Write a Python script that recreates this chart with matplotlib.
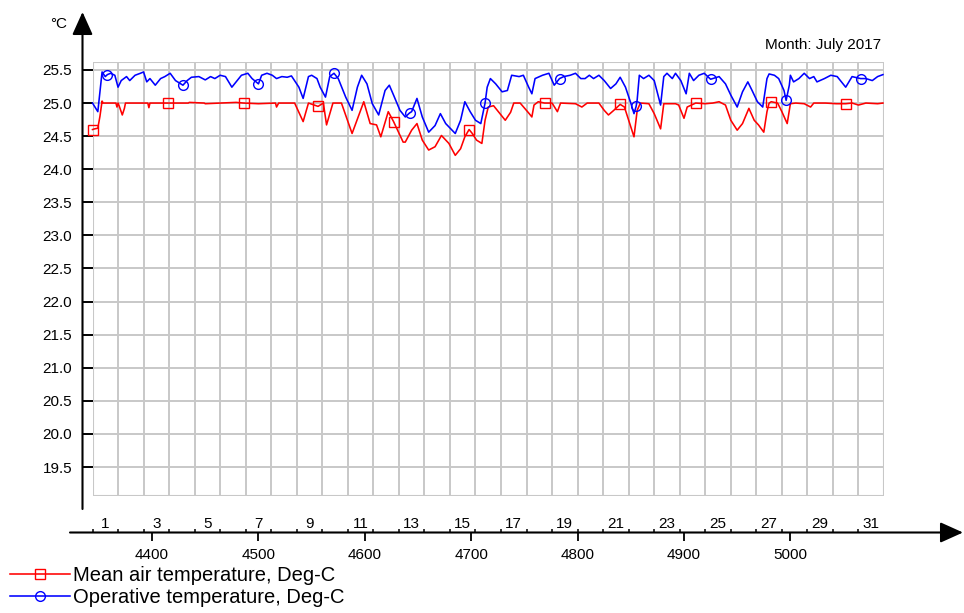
import numpy as np
import matplotlib.pyplot as plt
from matplotlib.patches import Rectangle

plt.rcParams["font.family"] = ["Liberation Sans", "DejaVu Sans"]

start_hour = 4344  # 1 July 00:00, hour of year
n_days = 31

# mean air temperature, hour offset in July / value
air_h = [0, 2, 5, 7, 9, 10, 22, 23, 24, 25, 28, 30, 31, 52, 53, 54, 71, 90, 91, 105,
         106, 120, 135, 142, 156, 172, 173, 175, 190, 198, 203, 212, 217, 220, 226, 234,
         244, 255, 261, 267, 271, 278, 283, 292, 294, 300, 305, 310, 316, 322, 328, 335,
         341, 346, 350, 354, 357, 361, 366, 369, 372, 377, 382, 388, 393, 396, 402, 410,
         413, 415, 419, 425, 432, 437, 440, 454, 460, 465, 476, 481, 485, 490, 496, 500,
         504, 509, 512, 515, 523, 528, 534, 537, 548, 551, 556, 559, 567, 576, 583, 589,
         595, 600, 606, 611, 617, 622, 626, 631, 634, 636, 638, 644, 648, 653, 656, 661,
         669, 675, 678, 689, 699, 708, 714, 720, 727, 738, 743]
air_t = [24.60, 24.61, 24.62, 24.80, 25.03, 25.00, 25.00, 24.94, 25.00, 24.96, 24.82, 24.92,
         25.00, 25.00, 24.93, 25.00, 25.00, 25.00, 25.01, 25.00, 24.99, 25.00, 25.01, 25.00,
         24.99, 25.00, 24.94, 25.00, 25.00, 24.72, 25.00, 24.95, 25.00, 24.67, 25.00, 25.00,
         24.54, 25.02, 24.69, 24.67, 24.49, 24.87, 24.72, 24.41, 24.41, 24.59, 24.69, 24.44,
         24.29, 24.34, 24.51, 24.39, 24.21, 24.31, 24.49, 24.60, 24.54, 24.44, 24.39, 24.74,
         24.94, 24.96, 24.86, 24.74, 24.86, 25.00, 25.00, 24.85, 24.79, 24.97, 25.02, 25.00,
         25.00, 24.87, 25.00, 24.99, 24.94, 25.00, 25.00, 24.89, 24.82, 24.89, 24.98, 24.94,
         24.74, 24.49, 24.89, 25.00, 24.99, 24.84, 24.61, 24.99, 24.99, 24.97, 24.77, 24.94,
         25.00, 24.99, 25.00, 25.02, 24.97, 24.74, 24.59, 24.69, 24.92, 24.74, 24.67, 24.56,
         24.87, 25.00, 25.02, 25.00, 24.87, 24.69, 24.99, 25.00, 24.99, 24.94, 25.00, 25.00,
         24.99, 24.99, 25.00, 24.97, 25.00, 24.99, 25.00]
air_marks = [0, 71, 142, 212, 283, 354, 425, 496, 567, 638, 708]

# operative temperature
op_h = [0, 5, 9, 12, 14, 17, 21, 24, 27, 32, 35, 40, 45, 48, 51, 54, 59, 64, 68, 73, 78,
        85, 89, 93, 100, 106, 111, 115, 120, 125, 131, 136, 140, 146, 150, 156, 159, 164,
        169, 173, 178, 183, 187, 194, 198, 203, 206, 211, 214, 219, 223, 227, 231, 238,
        244, 249, 253, 258, 263, 269, 275, 279, 283, 289, 294, 298, 300, 305, 310, 316,
        322, 327, 332, 341, 346, 350, 355, 360, 365, 369, 371, 374, 379, 385, 390, 394,
        401, 405, 410, 413, 416, 423, 429, 434, 439, 443, 449, 454, 459, 463, 467, 471,
        476, 481, 487, 492, 496, 501, 506, 509, 511, 512, 514, 518, 523, 528, 534, 537,
        540, 545, 548, 553, 558, 561, 565, 570, 575, 581, 589, 595, 600, 606, 611, 616,
        620, 625, 630, 634, 636, 641, 645, 650, 652, 655, 656, 659, 664, 669, 674, 678,
        681, 688, 694, 700, 703, 708, 714, 722, 727, 733, 738, 743]
op_t = [25.00, 24.87, 25.47, 25.40, 25.43, 25.45, 25.42, 25.24, 25.34, 25.40, 25.34, 25.42,
        25.45, 25.47, 25.32, 25.37, 25.27, 25.37, 25.40, 25.45, 25.34, 25.27, 25.34, 25.39,
        25.40, 25.35, 25.40, 25.37, 25.42, 25.40, 25.24, 25.34, 25.42, 25.45, 25.37, 25.29,
        25.42, 25.45, 25.42, 25.37, 25.40, 25.39, 25.41, 25.24, 25.07, 25.40, 25.42, 25.37,
        25.24, 25.09, 25.40, 25.45, 25.37, 25.09, 24.89, 25.24, 25.42, 25.29, 24.99, 24.82,
        25.19, 25.27, 25.12, 24.89, 24.79, 24.85, 24.87, 25.07, 24.79, 24.56, 24.66, 24.84,
        24.69, 24.54, 24.74, 25.02, 24.87, 24.74, 24.69, 25.00, 25.24, 25.37, 25.29, 25.17,
        25.19, 25.42, 25.40, 25.42, 25.24, 25.14, 25.37, 25.42, 25.45, 25.27, 25.37, 25.40,
        25.42, 25.45, 25.37, 25.37, 25.42, 25.37, 25.42, 25.34, 25.22, 25.29, 25.39, 25.24,
        25.00, 24.84, 24.95, 25.05, 25.42, 25.37, 25.42, 25.34, 24.97, 25.40, 25.45, 25.37,
        25.45, 25.34, 25.14, 25.45, 25.34, 25.42, 25.45, 25.36, 25.40, 25.29, 25.12, 24.94,
        25.17, 25.32, 25.19, 25.02, 24.94, 25.37, 25.44, 25.42, 25.37, 25.19, 25.04, 25.27,
        25.42, 25.32, 25.37, 25.45, 25.37, 25.40, 25.32, 25.37, 25.42, 25.40, 25.34, 25.24,
        25.40, 25.37, 25.37, 25.34, 25.40, 25.43]
op_marks = [14, 85, 156, 227, 298, 369, 439, 511, 581, 652, 722]

y_ticks = [19.5, 20.0, 20.5, 21.0, 21.5, 22.0, 22.5, 23.0, 23.5, 24.0, 24.5, 25.0, 25.5]
hour_ticks = [4400, 4500, 4600, 4700, 4800, 4900, 5000]
day_labels = [1, 3, 5, 7, 9, 11, 13, 15, 17, 19, 21, 23, 25, 27, 29, 31]

W, H = 964, 613
left, right, top, bottom = 92.5, 884, 61.7, 496
fig = plt.figure(figsize=(W / 100, H / 100), dpi=100)
ax = fig.add_axes([left / W, 1 - bottom / H, (right - left) / W, (bottom - top) / H])
aw, ah = right - left, bottom - top

ax.plot(np.array(air_h) + start_hour, air_t, color="#ff0000", lw=1.15,
        marker="s", ms=7.5, mfc="none", mew=1.0, clip_on=False,
        markevery=list(np.flatnonzero(np.isin(air_h, air_marks))),
        label="Mean air temperature, Deg-C")
ax.plot(np.array(op_h) + start_hour, op_t, color="#0000ff", lw=1.15,
        marker="o", ms=7, mfc="none", mew=1.0, clip_on=False,
        markevery=list(np.flatnonzero(np.isin(op_h, op_marks))),
        label="Operative temperature, Deg-C")

ax.set_xlim(start_hour, start_hour + 24 * n_days)
ax.set_ylim(19.062, 25.625)

# frame and grid
for s in ax.spines.values():
    s.set_visible(False)
ax.add_patch(Rectangle((0, 0), 1, 1, transform=ax.transAxes, fill=False,
                       ec="#c8c8c8", lw=1.5, zorder=0.5))
ax.set_axisbelow(True)
ax.grid(axis="y", which="major", color="#c8c8c8", lw=1.4)
ax.grid(axis="x", which="minor", color="#c8c8c8", lw=1.4)

# y axis
ax.spines["left"].set_position(("axes", (82.5 - left) / aw))
ax.set_yticks(y_ticks)
ax.yaxis.set_major_formatter("{x:.1f}")
ax.tick_params(axis="y", direction="in", length=7.2, width=1.4, pad=7.5, labelsize=11)

# x axis
ax.spines["bottom"].set_position(("axes", (bottom - 532.5) / ah))
ax.set_xticks(hour_ticks)
ax.set_xticks(start_hour + 24 * np.arange(n_days), minor=True)
ax.xaxis.remove_overlapping_locs = False
ax.tick_params(axis="x", which="major", direction="out", length=6, width=1.3, pad=5, labelsize=11)
ax.tick_params(axis="x", which="minor", direction="in", length=3.2, width=1.1)
for d in day_labels:
    ax.text(start_hour + 24 * (d - 0.5), (bottom - 527.5) / ah, str(d),
            transform=ax.get_xaxis_transform(), ha="center", va="baseline", fontsize=11)

arrow = dict(arrowstyle="-|>,head_length=1.0,head_width=0.45", color="black", lw=1.5,
             shrinkA=0, shrinkB=0, mutation_scale=14)
ax.annotate("", xy=((82.5 - left) / aw, (bottom - 12) / ah),
            xytext=((82.5 - left) / aw, (bottom - 509) / ah),
            xycoords="axes fraction", arrowprops=arrow, annotation_clip=False)
ax.annotate("", xy=((963 - left) / aw, (bottom - 532.5) / ah),
            xytext=((70 - left) / aw, (bottom - 532.5) / ah),
            xycoords="axes fraction", arrowprops=arrow, annotation_clip=False)

ax.text((881.5 - left) / aw, (bottom - 49) / ah, "Month: July 2017",
        transform=ax.transAxes, ha="right", va="baseline", fontsize=11)
fig.text(59 / W, 1 - 28 / H, "°C", ha="center", va="baseline", fontsize=11)

fig.legend(loc="upper left", bbox_to_anchor=(10 / W, 1 - 566 / H), frameon=False,
           fontsize=14.5, handlelength=3.0, handletextpad=0.15, labelspacing=0.15,
           borderpad=0, borderaxespad=0)

fig.savefig("out.png", dpi=100)
